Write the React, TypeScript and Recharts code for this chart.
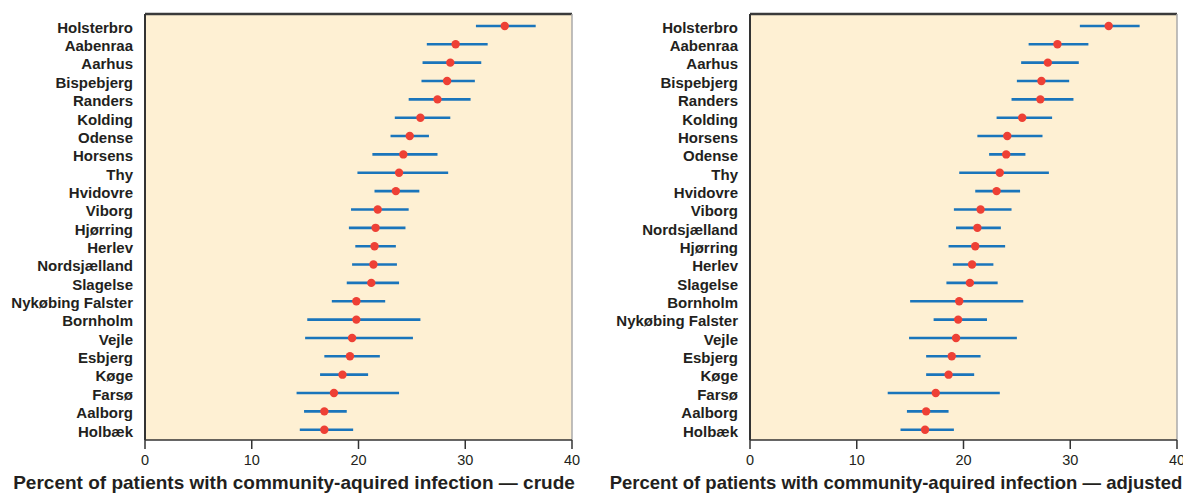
import { ScatterChart, Scatter, XAxis, YAxis, ErrorBar, ReferenceArea, ReferenceLine } from 'recharts';

// crude panel, top to bottom
const crudeNames = [
  'Holsterbro', 'Aabenraa', 'Aarhus', 'Bispebjerg', 'Randers', 'Kolding', 'Odense', 'Horsens',
  'Thy', 'Hvidovre', 'Viborg', 'Hjørring', 'Herlev', 'Nordsjælland', 'Slagelse',
  'Nykøbing Falster', 'Bornholm', 'Vejle', 'Esbjerg', 'Køge', 'Farsø', 'Aalborg', 'Holbæk',
];
const crudeValue = [33.7, 29.1, 28.6, 28.3, 27.4, 25.8, 24.8, 24.2, 23.8, 23.5, 21.8, 21.6, 21.5, 21.4, 21.2, 19.8, 19.8, 19.4, 19.2, 18.5, 17.7, 16.8, 16.8];
const crudeLow = [31.0, 26.4, 26.0, 25.9, 24.7, 23.4, 23.0, 21.3, 19.9, 21.5, 19.3, 19.1, 19.7, 19.4, 18.9, 17.5, 15.2, 15.0, 16.8, 16.4, 14.2, 14.9, 14.5];
const crudeHigh = [36.6, 32.1, 31.5, 30.9, 30.5, 28.6, 26.6, 27.4, 28.4, 25.7, 24.7, 24.4, 23.5, 23.6, 23.8, 22.5, 25.8, 25.1, 22.0, 20.9, 23.8, 18.9, 19.5];

// adjusted panel, top to bottom
const adjNames = [
  'Holsterbro', 'Aabenraa', 'Aarhus', 'Bispebjerg', 'Randers', 'Kolding', 'Horsens', 'Odense',
  'Thy', 'Hvidovre', 'Viborg', 'Nordsjælland', 'Hjørring', 'Herlev', 'Slagelse', 'Bornholm',
  'Nykøbing Falster', 'Vejle', 'Esbjerg', 'Køge', 'Farsø', 'Aalborg', 'Holbæk',
];
const adjValue = [33.6, 28.8, 27.9, 27.3, 27.2, 25.5, 24.1, 24.0, 23.4, 23.1, 21.6, 21.3, 21.1, 20.8, 20.6, 19.6, 19.5, 19.3, 18.9, 18.6, 17.4, 16.5, 16.4];
const adjLow = [30.9, 26.1, 25.4, 25.0, 24.5, 23.1, 21.3, 22.4, 19.6, 21.1, 19.1, 19.3, 18.6, 19.0, 18.4, 15.0, 17.2, 14.9, 16.5, 16.5, 12.9, 14.7, 14.1];
const adjHigh = [36.5, 31.7, 30.8, 29.9, 30.3, 28.3, 27.4, 25.8, 28.0, 25.3, 24.5, 23.5, 23.9, 22.8, 23.2, 25.6, 22.2, 25.0, 21.6, 21.0, 23.4, 18.6, 19.1];

const xTicks = [0, 10, 20, 30, 40];

const TEXT = '#231f20';
const FONT = '"Liberation Sans", Arial, sans-serif';

function Dot(props: any) {
  return <circle cx={props.cx} cy={props.cy} r={4.2} fill="#ee4035" />;
}

function Panel({ names, value, low, high, title, left, titleWidth, titleSize }: {
  names: string[]; value: number[]; low: number[]; high: number[]; title: string; left: number;
  titleWidth: number; titleSize: number;
}) {
  const data = names.map((n, i) => ({
    name: n,
    idx: i,
    v: value[i],
    err: [value[i] - low[i], high[i] - value[i]],
  }));
  const yDomain = [-0.65, 22.56];

  return (
    <div style={{ position: 'absolute', left, top: 0, width: 590, height: 493 }}>
      <ScatterChart width={590} height={493} margin={{ top: 14, right: 18, bottom: 0, left: 0 }}>
        <XAxis
          type="number"
          dataKey="v"
          domain={[0, 40]}
          ticks={xTicks}
          allowDataOverflow
          height={53}
          axisLine={{ stroke: '#333', strokeWidth: 1.5 }}
          tickLine={{ stroke: '#333', strokeWidth: 1.5 }}
          tickSize={9}
          tickMargin={6}
          tick={{ fontSize: 14.5, fill: TEXT, fontFamily: FONT }}
        />
        <YAxis
          type="number"
          dataKey="idx"
          domain={yDomain}
          reversed
          ticks={names.map((_, i) => i)}
          interval={0}
          tickFormatter={(i: number) => names[i]}
          width={145}
          axisLine={{ stroke: '#333', strokeWidth: 2 }}
          tickLine={false}
          tickSize={0}
          tickMargin={12}
          tick={{ fontSize: 15, fontWeight: 'bold', fill: TEXT, fontFamily: FONT, dy: 1.5 }}
        />
        <ReferenceArea x1={0} x2={40} y1={yDomain[0]} y2={yDomain[1]} fill="#fef0d3" fillOpacity={1} stroke="none" />
        <ReferenceLine y={yDomain[0]} stroke="#3a3a3a" strokeWidth={2.5} />
        <ReferenceLine x={40} stroke="#aaa" strokeWidth={1.5} />
        <Scatter data={data} shape={Dot} isAnimationActive={false}>
          <ErrorBar dataKey="err" direction="x" width={0} stroke="#1a75bb" strokeWidth={2.6} />
        </Scatter>
      </ScatterChart>
      <div
        style={{
          position: 'absolute',
          left: 0,
          width: titleWidth,
          top: 472,
          textAlign: 'center',
          fontFamily: FONT,
          fontWeight: 'bold',
          fontSize: titleSize,
          color: TEXT,
          whiteSpace: 'nowrap',
        }}
      >
        {title}
      </div>
    </div>
  );
}

export default function App() {
  return (
    <div style={{ position: 'absolute', left: 0, top: 0, width: 1183, height: 493, overflow: 'hidden', background: '#fff' }}>
      <Panel
        names={crudeNames}
        value={crudeValue}
        low={crudeLow}
        high={crudeHigh}
        title="Percent of patients with community-aquired infection — crude"
        left={0}
        titleWidth={588}
        titleSize={19}
      />
      <Panel
        names={adjNames}
        value={adjValue}
        low={adjLow}
        high={adjHigh}
        title="Percent of patients with community-aquired infection — adjusted"
        left={605}
        titleWidth={582}
        titleSize={18.5}
      />
    </div>
  );
}
